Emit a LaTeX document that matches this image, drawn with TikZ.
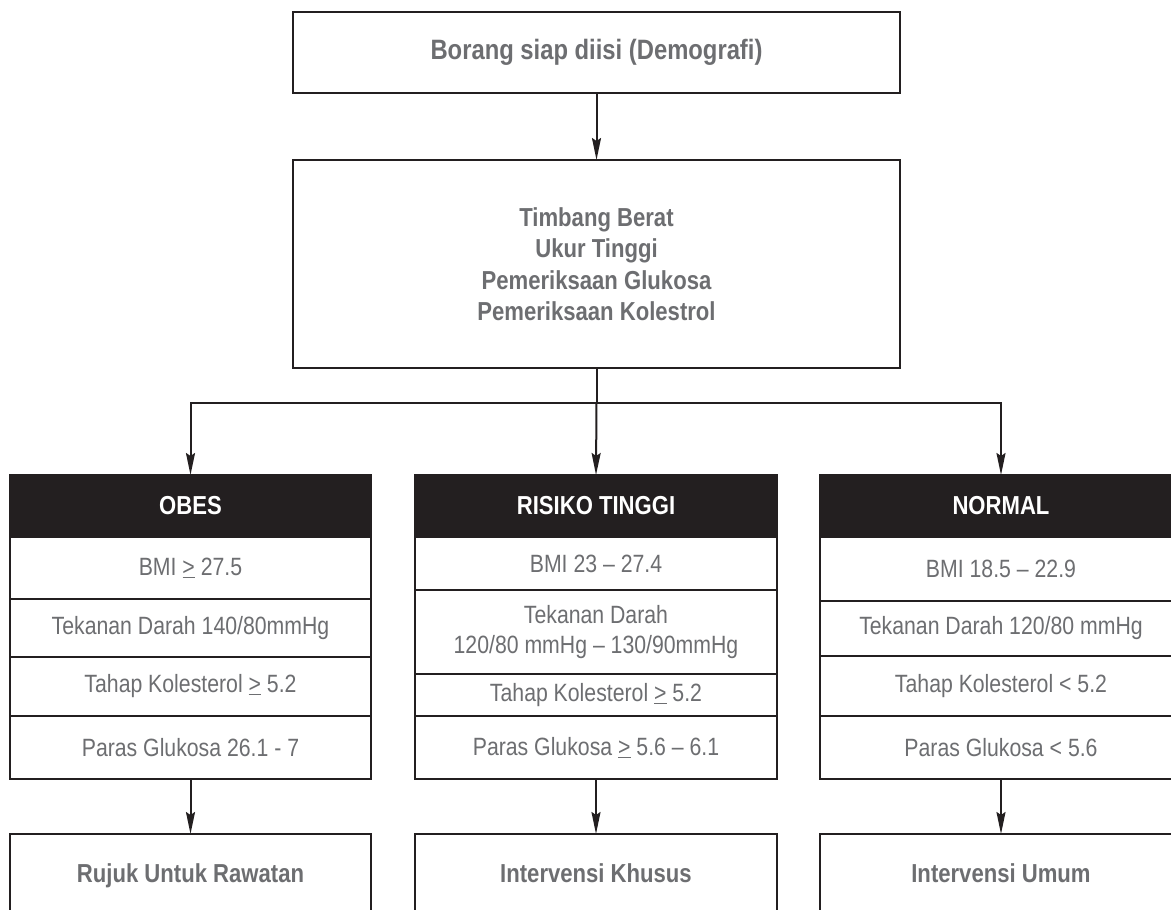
\documentclass[tikz,border=0pt]{standalone}
\usepackage{fontspec}
\setmainfont{Liberation Sans}[FakeStretch=0.85]
\usetikzlibrary{arrows.meta}
\definecolor{ink}{HTML}{231F20}
\definecolor{txt}{HTML}{6D6E71}
\newcommand{\geu}{\underline{>}}

\begin{document}
\begin{tikzpicture}[x=1pt,y=-1pt,
  box/.style={draw=ink, line width=2.6pt, fill=white, inner sep=0pt, outer sep=0pt,
    text=txt, font=\fontsize{26}{31.5}\selectfont\bfseries, align=center},
  oneline/.style={text height=19pt, text depth=6pt},
  hdr/.style={fill=ink, draw=ink, line width=2.6pt, inner sep=0pt, outer sep=0pt,
    text=white, font=\fontsize{26}{31}\selectfont\bfseries, minimum height=62pt},
  cell/.style={draw=ink, line width=1.6pt, inner sep=0pt, outer sep=0pt,
    text=txt, font=\fontsize{25}{30}\selectfont, align=center},
  frame/.style={draw=ink, line width=2.6pt},
  link/.style={draw=ink, line width=2pt},
  arr/.style={link, -{Stealth[length=22pt,width=9pt,inset=3pt]}},
]
\clip (0,0) rectangle (1171,910);
\fill[white] (0,0) rectangle (1171,910);

% top of the flow
\node[box, minimum width=607pt, minimum height=81pt, font=\fontsize{28}{33}\selectfont\bfseries] (demo) at (596.5,52.5)
  {Borang siap diisi (Demografi)};
\node[box, minimum width=607pt, minimum height=208pt] (check) at (596.5,264)
  {Timbang Berat\\Ukur Tinggi\\Pemeriksaan Glukosa\\Pemeriksaan Kolestrol};

% column 1: OBES
\node[hdr, minimum width=361pt] (oh) at (190.5,506) {OBES};
\node[cell, minimum width=361pt, minimum height=62pt] (o1) at (190.5,568) {BMI \geu{} 27.5};
\node[cell, minimum width=361pt, minimum height=58pt] (o2) at (190.5,628) {Tekanan Darah 140/80mmHg};
\node[cell, minimum width=361pt, minimum height=59pt] (o3) at (190.5,686.5) {Tahap Kolesterol \geu{} 5.2};
\node[cell, minimum width=361pt, minimum height=63pt] (o4) at (190.5,747.5) {Paras Glukosa 26.1 - 7};
\draw[frame] (oh.north west) rectangle (o4.south east);

% column 2: RISIKO TINGGI
\node[hdr, minimum width=362pt] (mh) at (596,506) {RISIKO TINGGI};
\node[cell, minimum width=362pt, minimum height=53pt] (m1) at (596,563.5) {BMI 23 – 27.4};
\node[cell, minimum width=362pt, minimum height=84pt] (m2) at (596,632)
  {Tekanan Darah\\120/80 mmHg – 130/90mmHg};
\node[cell, minimum width=362pt, minimum height=42pt] (m3) at (596,695) {Tahap Kolesterol \geu{} 5.2};
\node[cell, minimum width=362pt, minimum height=63pt] (m4) at (596,747.5) {Paras Glukosa \geu{} 5.6 – 6.1};
\draw[frame] (mh.north west) rectangle (m4.south east);

% column 3: NORMAL
\node[hdr, minimum width=362pt] (nh) at (1001,506) {NORMAL};
\node[cell, minimum width=362pt, minimum height=64pt] (n1) at (1001,569) {BMI 18.5 – 22.9};
\node[cell, minimum width=362pt, minimum height=55pt] (n2) at (1001,628.5) {Tekanan Darah 120/80 mmHg};
\node[cell, minimum width=362pt, minimum height=60pt] (n3) at (1001,686) {Tahap Kolesterol < 5.2};
\node[cell, minimum width=362pt, minimum height=63pt] (n4) at (1001,747.5) {Paras Glukosa < 5.6};
\draw[frame] (nh.north west) rectangle (n4.south east);

% outcomes (their lower edges run off the page)
\node[box, oneline, minimum width=361pt, minimum height=84pt] (ob) at (190.5,876) {Rujuk Untuk Rawatan};
\node[box, oneline, minimum width=362pt, minimum height=84pt] (mb) at (596,876) {Intervensi Khusus};
\node[box, oneline, minimum width=362pt, minimum height=84pt] (nb) at (1001,876) {Intervensi Umum};

% connectors
\coordinate (split) at (596.5,403);
\draw[arr] (demo) -- (check);
\draw[link] (check) -- (split);
\draw[arr] (split) -| (oh.north);
\draw[arr] (split) -- (mh.north);
\draw[arr] (split) -| (nh.north);
\draw[arr] (o4) -- (ob);
\draw[arr] (m4) -- (mb);
\draw[arr] (n4) -- (nb);
\end{tikzpicture}
\end{document}
